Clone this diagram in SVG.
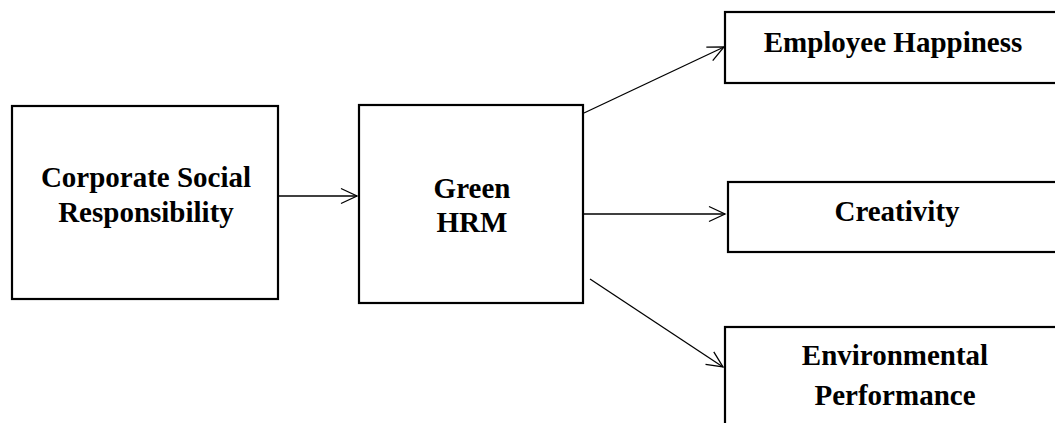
<svg xmlns="http://www.w3.org/2000/svg" width="1055" height="423" viewBox="0 0 1055 423">
  <style>
    .box { fill: #ffffff; stroke: #000000; stroke-width: 2.2; }
    .lbl { font-family: "Liberation Serif", "Times New Roman", serif; font-weight: bold; font-size: 29px; fill: #000000; text-anchor: middle; }
    .conn { stroke: #000000; stroke-width: 1.3; fill: none; marker-end: url(#arrow); }
  </style>
  <defs>
    <marker id="arrow" markerUnits="userSpaceOnUse" viewBox="0 0 20 20" refX="17" refY="10" markerWidth="20" markerHeight="20" orient="auto">
      <path d="M1,2.5 L17,10 L1,17.5" fill="none" stroke="#000000" stroke-width="1.3"/>
    </marker>
  </defs>
  <rect width="1055" height="423" fill="#ffffff"/>
  <g id="connectors">
    <line class="conn" x1="279" y1="196" x2="357" y2="196"/>
    <line class="conn" x1="584" y1="113" x2="724" y2="47"/>
    <line class="conn" x1="584" y1="214" x2="725" y2="214"/>
    <line class="conn" x1="590" y1="279" x2="723" y2="367"/>
  </g>
  <g id="csr">
    <rect class="box" x="12" y="106" width="266" height="193"/>
    <text class="lbl" x="146" y="187">Corporate Social</text>
    <text class="lbl" x="146" y="222">Responsibility</text>
  </g>
  <g id="green-hrm">
    <rect class="box" x="359" y="105" width="224" height="198"/>
    <text class="lbl" x="472" y="198">Green</text>
    <text class="lbl" x="472" y="232">HRM</text>
  </g>
  <g id="employee-happiness">
    <rect class="box" x="725" y="12" width="345" height="71"/>
    <text class="lbl" x="893" y="52">Employee Happiness</text>
  </g>
  <g id="creativity">
    <rect class="box" x="728" y="182" width="345" height="70"/>
    <text class="lbl" x="897" y="221">Creativity</text>
  </g>
  <g id="environmental-performance">
    <rect class="box" x="725" y="327" width="345" height="110"/>
    <text class="lbl" x="895" y="365">Environmental</text>
    <text class="lbl" x="895" y="405">Performance</text>
  </g>
</svg>
